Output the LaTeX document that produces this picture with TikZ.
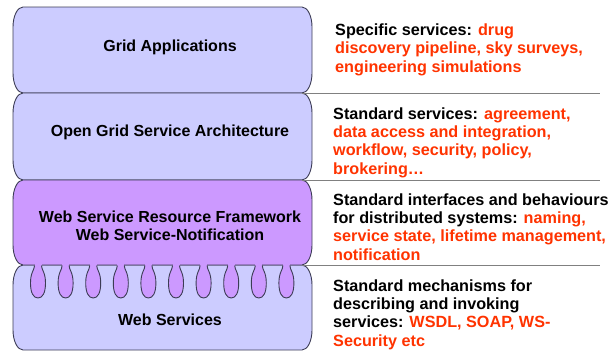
\documentclass[tikz,border=0pt]{standalone}
\usepackage{fontspec}
\setmainfont{Liberation Sans}
\usepackage{xcolor}
\usepackage{tikz}
\usetikzlibrary{positioning}

\definecolor{lavender}{RGB}{204,204,255}
\definecolor{lilac}{RGB}{204,153,255}
\definecolor{rim}{RGB}{60,60,85}
\definecolor{hot}{RGB}{255,51,0}

\begin{document}
\begin{tikzpicture}[x=1pt, y=1pt,
			layer/.style={draw=rim, line width=0.9pt},
			sep/.style={draw=gray, line width=0.9pt},
			tier/.style={font=\fontsize{16}{18}\selectfont\bfseries, align=center, anchor=base, inner sep=0pt},
			desc/.style={font=\fontsize{16.2}{18.3}\selectfont\bfseries, align=left, anchor=base west, inner sep=0pt}]

			\useasboundingbox (0,0) rectangle (616,-351);

			% the four layers, top to bottom (the purple one last)
			\foreach \tp/\bt/\col in {7/93/lavender, 93/180/lavender, 265/350/lavender, 180/265/lilac}
				\draw[layer, fill=\col] (23,-\tp) -- (302,-\tp)
					arc[start angle=90, end angle=0, x radius=10pt, y radius=20pt] -- (312,-\bt+20)
					arc[start angle=0, end angle=-90, x radius=10pt, y radius=20pt] -- (23,-\bt)
					arc[start angle=270, end angle=180, x radius=10pt, y radius=20pt] -- (13,-\tp-20)
					arc[start angle=180, end angle=90, x radius=10pt, y radius=20pt] -- cycle;

			% bulbs hanging from the framework into the web services
			\foreach \i in {0,...,9} {
				\pgfmathsetmacro{\cx}{38+27.6*\i}
				\fill[lilac] (\cx-3.5,-263) rectangle (\cx+3.5,-266);
				\draw[layer, fill=lilac] (\cx-3.5,-265.5) .. controls (\cx-3.5,-270) and (\cx-7.5,-272) .. (\cx-7.5,-283)
					.. controls (\cx-7.5,-293) and (\cx-4.5,-298) .. (\cx,-298)
					.. controls (\cx+4.5,-298) and (\cx+7.5,-293) .. (\cx+7.5,-283)
					.. controls (\cx+7.5,-272) and (\cx+3.5,-270) .. (\cx+3.5,-265.5);
			}

			\draw[sep] (302,-93) -- (600,-93);
			\draw[sep] (302,-180) -- (600,-180);
			\draw[sep] (302,-265) -- (600,-265);

			% multi-line nodes sit on their last baseline
			\node[tier] (apps) at (170,-51) {Grid Applications};
			\node[tier] (ogsa) at (170,-136) {Open Grid Service Architecture};
			\node[tier] (wsrf) at (170,-240) {Web Service Resource Framework\\Web Service-Notification};
			\node[tier] (ws) at (170,-325) {Web Services};

			\node[desc] (specific) at (335,-72) {Specific services: \textcolor{hot}{drug}\\
				\textcolor{hot}{discovery pipeline, sky surveys,}\\
				\textcolor{hot}{engineering simulations}};
			\node[desc] (standard) at (333,-174) {Standard services: \textcolor{hot}{agreement,}\\
				\textcolor{hot}{data access and integration,}\\
				\textcolor{hot}{workflow, security, policy,}\\
				\textcolor{hot}{brokering\dots}};
			\node[desc] (interfaces) at (333,-260) {Standard interfaces and behaviours\\
				for distributed systems: \textcolor{hot}{naming,}\\
				\textcolor{hot}{service state, lifetime management,}\\
				\textcolor{hot}{notification}};
			\node[desc] (mechanisms) at (333,-346) {Standard mechanisms for\\
				describing and invoking\\
				services: \textcolor{hot}{WSDL, SOAP, WS-}\\
				\textcolor{hot}{Security etc}};
		\end{tikzpicture}
\end{document}
